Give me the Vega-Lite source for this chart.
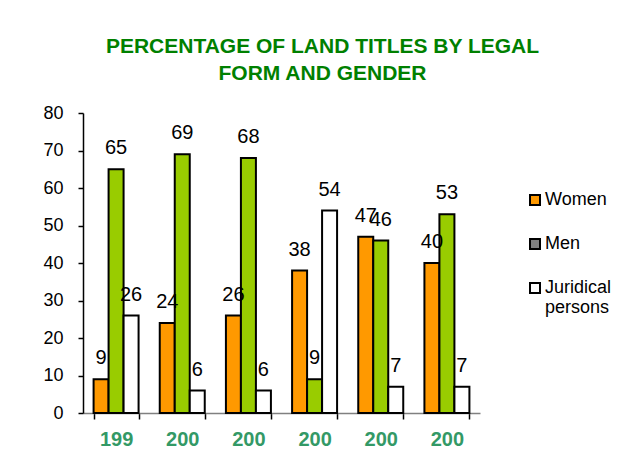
{
  "$schema": "https://vega.github.io/schema/vega-lite/v6.json",
  "width": 397,
  "height": 300,
  "autosize": {"type": "none"},
  "padding": {"left": 83, "top": 113, "right": 150, "bottom": 57},
  "background": "white",
  "config": {
    "font": "Liberation Sans",
    "view": {"stroke": null}
  },
  "title": {
    "text": ["PERCENTAGE OF LAND TITLES BY LEGAL", "FORM AND GENDER"],
    "color": "#008000",
    "fontSize": 21,
    "fontWeight": "bold",
    "font": "Liberation Sans",
    "lineHeight": 27,
    "anchor": "middle",
    "frame": "group",
    "dx": 41,
    "offset": 20
  },
  "data": {
    "values": [
      {"year": "1999", "series": "Women", "value": 9},
      {"year": "1999", "series": "Men", "value": 65},
      {"year": "1999", "series": "Juridical persons", "value": 26},
      {"year": "2000", "series": "Women", "value": 24},
      {"year": "2000", "series": "Men", "value": 69},
      {"year": "2000", "series": "Juridical persons", "value": 6},
      {"year": "2001", "series": "Women", "value": 26},
      {"year": "2001", "series": "Men", "value": 68},
      {"year": "2001", "series": "Juridical persons", "value": 6},
      {"year": "2002", "series": "Women", "value": 38},
      {"year": "2002", "series": "Men", "value": 9},
      {"year": "2002", "series": "Juridical persons", "value": 54},
      {"year": "2003", "series": "Women", "value": 47},
      {"year": "2003", "series": "Men", "value": 46},
      {"year": "2003", "series": "Juridical persons", "value": 7},
      {"year": "2004", "series": "Women", "value": 40},
      {"year": "2004", "series": "Men", "value": 53},
      {"year": "2004", "series": "Juridical persons", "value": 7}
    ]
  },
  "encoding": {
    "x": {
      "field": "year",
      "type": "nominal",
      "title": null,
      "scale": {"paddingInner": 0.32, "paddingOuter": 0.16},
      "axis": {
        "labelAngle": 0,
        "labelExpr": "substring(datum.label, 0, 3)",
        "labelFontSize": 20,
        "labelFontWeight": "bold",
        "labelColor": "#339966",
        "labelPadding": 10,
        "tickBand": "extent",
        "tickSize": 6,
        "tickColor": "#000000",
        "domainColor": "#808080",
        "domainWidth": 1.5,
        "tickWidth": 1.5
      }
    },
    "xOffset": {
      "field": "series",
      "type": "nominal",
      "sort": ["Women", "Men", "Juridical persons"],
      "scale": {"paddingInner": 0, "paddingOuter": 0}
    },
    "y": {
      "field": "value",
      "type": "quantitative",
      "title": null,
      "scale": {"domain": [0, 80], "nice": false},
      "axis": {
        "values": [0, 10, 20, 30, 40, 50, 60, 70, 80],
        "grid": false,
        "labelFontSize": 18,
        "labelColor": "#000000",
        "labelPadding": 15,
        "tickSize": 5,
        "tickColor": "#000000",
        "domainColor": "#000000",
        "domainWidth": 1.5,
        "tickWidth": 1.5
      }
    }
  },
  "layer": [
    {
      "mark": {"type": "bar", "stroke": "#000000", "strokeWidth": 2},
      "encoding": {
        "fill": {
          "field": "series",
          "type": "nominal",
          "scale": {
            "domain": ["Women", "Men", "Juridical persons"],
            "range": ["#FF9900", "#99CC00", "#FFFFFF"]
          },
          "legend": null
        }
      }
    },
    {
      "mark": {"type": "square", "opacity": 0, "stroke": "#000000", "strokeWidth": 2, "filled": true},
      "encoding": {
        "fill": {
          "field": "series",
          "type": "nominal",
          "scale": {
            "domain": ["Women", "Men", "Juridical persons"],
            "range": ["#FF9900", "#808080", "#FFFFFF"]
          },
          "legend": {
            "title": null,
            "orient": "none",
            "legendX": 443,
            "legendY": 78,
            "symbolType": "square",
            "symbolSize": 100,
            "symbolOpacity": 1,
            "symbolStrokeColor": "#000000",
            "symbolStrokeWidth": 2,
            "labelFontSize": 18,
            "labelColor": "#000000",
            "labelOffset": 1,
            "rowPadding": 26,
            "labelLimit": 200,
            "labelExpr": "datum.label == 'Juridical persons' ? ['Juridical', 'persons'] : datum.label",
            "encode": {
              "labels": {
                "update": {"baseline": {"value": "top"}, "dy": {"value": -9}}
              }
            }
          }
        }
      }
    },
    {
      "mark": {"type": "text", "fontSize": 20, "baseline": "alphabetic", "dy": -15, "color": "#000000"},
      "encoding": {
        "text": {"field": "value", "type": "quantitative"}
      }
    }
  ],
  "resolve": {"scale": {"fill": "independent"}}
}
